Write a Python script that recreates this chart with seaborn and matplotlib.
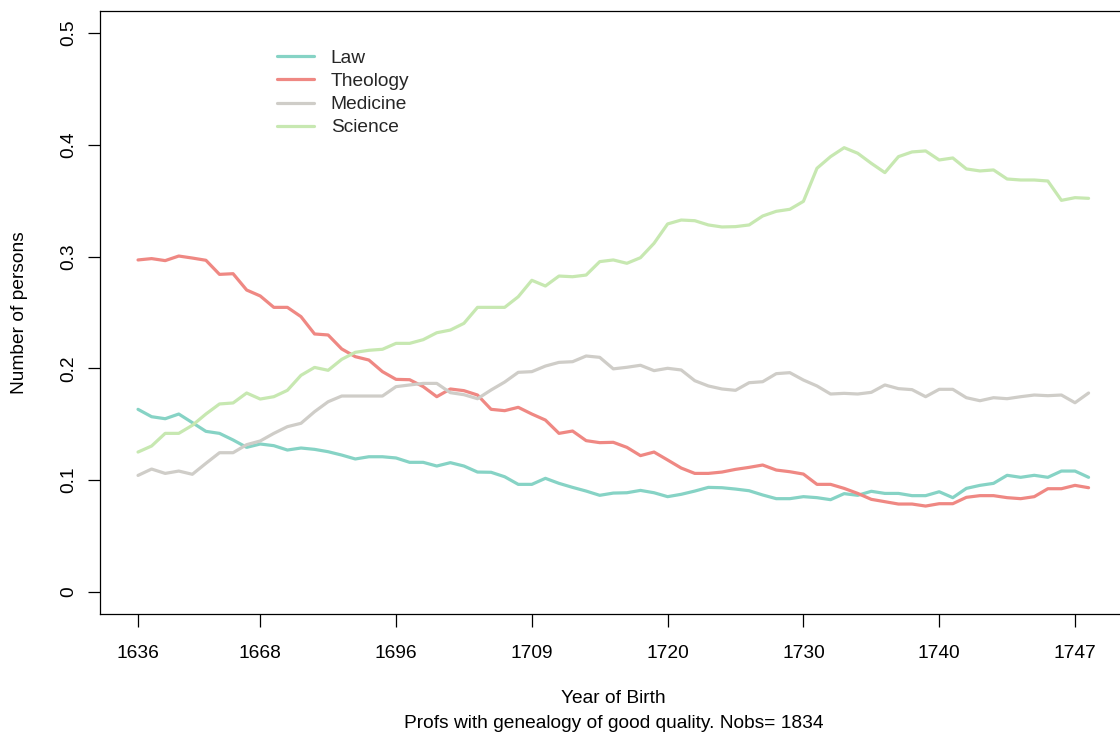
import numpy as np
import pandas as pd
import matplotlib
matplotlib.use("Agg")
import matplotlib.pyplot as plt
import seaborn as sns

# Share of professors by faculty, moving window over birth cohorts
law = [0.1634, 0.1568, 0.1550, 0.1592, 0.1515, 0.1437, 0.1419, 0.1360, 0.1294, 0.1324,
       0.1309, 0.1270, 0.1288, 0.1276, 0.1255, 0.1225, 0.1190, 0.1210, 0.1210, 0.1199,
       0.1160, 0.1160, 0.1127, 0.1157, 0.1127, 0.1073, 0.1071, 0.1031, 0.0963, 0.0963,
       0.1017, 0.0972, 0.0936, 0.0903, 0.0865, 0.0885, 0.0888, 0.0909, 0.0888, 0.0853,
       0.0874, 0.0903, 0.0936, 0.0933, 0.0921, 0.0906, 0.0868, 0.0835, 0.0835, 0.0853,
       0.0844, 0.0826, 0.0880, 0.0865, 0.0901, 0.0882, 0.0882, 0.0862, 0.0862, 0.0897,
       0.0844, 0.0927, 0.0954, 0.0972, 0.1044, 0.1026, 0.1044, 0.1026, 0.1082, 0.1082,
       0.1026]
theology = [0.2970, 0.2982, 0.2964, 0.3005, 0.2987, 0.2967, 0.2841, 0.2847, 0.2701, 0.2648,
            0.2546, 0.2546, 0.2463, 0.2308, 0.2299, 0.2174, 0.2105, 0.2075, 0.1971, 0.1902,
            0.1899, 0.1837, 0.1747, 0.1816, 0.1801, 0.1762, 0.1634, 0.1622, 0.1652, 0.1592,
            0.1538, 0.1419, 0.1440, 0.1354, 0.1336, 0.1339, 0.1294, 0.1220, 0.1252, 0.1181,
            0.1109, 0.1061, 0.1061, 0.1073, 0.1097, 0.1115, 0.1136, 0.1091, 0.1076, 0.1055,
            0.0963, 0.0963, 0.0927, 0.0882, 0.0829, 0.0808, 0.0787, 0.0787, 0.0769, 0.0790,
            0.0790, 0.0847, 0.0862, 0.0862, 0.0844, 0.0835, 0.0853, 0.0924, 0.0924, 0.0954,
            0.0933]
medicine = [0.1043, 0.1100, 0.1061, 0.1082, 0.1053, 0.1151, 0.1246, 0.1246, 0.1318, 0.1351,
            0.1419, 0.1479, 0.1509, 0.1613, 0.1702, 0.1753, 0.1753, 0.1753, 0.1753, 0.1837,
            0.1852, 0.1866, 0.1866, 0.1783, 0.1765, 0.1729, 0.1807, 0.1878, 0.1965, 0.1971,
            0.2021, 0.2054, 0.2060, 0.2111, 0.2099, 0.1996, 0.2010, 0.2028, 0.1980, 0.2001,
            0.1986, 0.1890, 0.1843, 0.1816, 0.1804, 0.1872, 0.1881, 0.1953, 0.1962, 0.1896,
            0.1843, 0.1771, 0.1777, 0.1771, 0.1786, 0.1852, 0.1819, 0.1810, 0.1747, 0.1813,
            0.1813, 0.1738, 0.1711, 0.1738, 0.1729, 0.1747, 0.1762, 0.1756, 0.1762, 0.1693,
            0.1780]
science = [0.1252, 0.1306, 0.1419, 0.1419, 0.1491, 0.1592, 0.1682, 0.1691, 0.1780, 0.1726,
           0.1747, 0.1804, 0.1938, 0.2009, 0.1983, 0.2081, 0.2144, 0.2162, 0.2171, 0.2224,
           0.2224, 0.2257, 0.2319, 0.2343, 0.2403, 0.2546, 0.2546, 0.2546, 0.2641, 0.2788,
           0.2737, 0.2826, 0.2820, 0.2835, 0.2955, 0.2970, 0.2940, 0.2990, 0.3119, 0.3292,
           0.3327, 0.3321, 0.3283, 0.3265, 0.3268, 0.3283, 0.3363, 0.3405, 0.3423, 0.3494,
           0.3790, 0.3894, 0.3974, 0.3924, 0.3834, 0.3751, 0.3894, 0.3936, 0.3945, 0.3864,
           0.3882, 0.3784, 0.3766, 0.3775, 0.3694, 0.3685, 0.3685, 0.3676, 0.3503, 0.3527,
           0.3521]

faculties = ["Law", "Theology", "Medicine", "Science"]
colors = ["#86D3C5", "#EF8883", "#CFCDC8", "#C7E8B1"]

tick_positions = [1, 10, 20, 30, 40, 50, 60, 70]
tick_labels = ["1636", "1668", "1696", "1709", "1720", "1730", "1740", "1747"]

n = len(law)
window = np.arange(1, n + 1)
df = pd.DataFrame({
    "window": np.tile(window, 4),
    "share": np.concatenate([law, theology, medicine, science]),
    "faculty": np.repeat(faculties, n),
})

sns.set_style("white")
plt.rcParams["font.family"] = ["Liberation Sans", "DejaVu Sans"]
fs = 13.8

W, H = 1120, 735
fig = plt.figure(figsize=(W / 100, H / 100), dpi=100)
left, right, top, bottom = 100, 1126.6, 10.6, 614.4
ax = fig.add_axes([left / W, 1 - bottom / H, (right - left) / W, (bottom - top) / H])

sns.lineplot(data=df, x="window", y="share", hue="faculty", hue_order=faculties,
             palette=dict(zip(faculties, colors)), linewidth=2.3, ax=ax,
             legend=False)

ax.set_xlim(1 - 0.04 * (n - 1), n + 0.04 * (n - 1))
ax.set_ylim(-0.02, 0.52)

for side in ["left", "top", "bottom", "right"]:
    ax.spines[side].set_visible(True)
    ax.spines[side].set_color("black")
    ax.spines[side].set_linewidth(0.9)

ax.set_xticks(tick_positions)
ax.set_xticklabels(tick_labels)
ax.set_yticks([0, 0.1, 0.2, 0.3, 0.4, 0.5])
ax.set_yticklabels(["0", "0.1", "0.2", "0.3", "0.4", "0.5"], rotation=90, va="center")
ax.tick_params(axis="both", which="major", direction="out", length=9, width=0.9,
               color="black", labelsize=fs, labelcolor="black")
ax.tick_params(axis="x", pad=13, bottom=True)
ax.tick_params(axis="y", pad=7.7, left=True)

ax.set_xlabel("")
ax.set_ylabel("Number of persons", fontsize=fs, color="black")
ax.yaxis.set_label_coords((28 - left) / (right - left), 0.5)
fig.text((left + right) / 2 / W, 1 - 698.5 / H, "Year of Birth", ha="center", va="center",
         fontsize=fs, color="black")
fig.text((left + right) / 2 / W, 1 - 723 / H,
         "Profs with genealogy of good quality. Nobs= 1834", ha="center", va="center",
         fontsize=fs, color="black")

handles = [plt.Line2D([], [], color=c, linewidth=2.3) for c in colors]
ax.legend(handles, faculties, loc="upper left",
          bbox_to_anchor=((277 - left) / (right - left), 1 - (49.5 - top) / (bottom - top)),
          frameon=False, fontsize=fs, handlelength=1.95, handletextpad=0.85,
          labelspacing=0.3, borderaxespad=0, borderpad=0)

fig.savefig("out.png", dpi=100)
